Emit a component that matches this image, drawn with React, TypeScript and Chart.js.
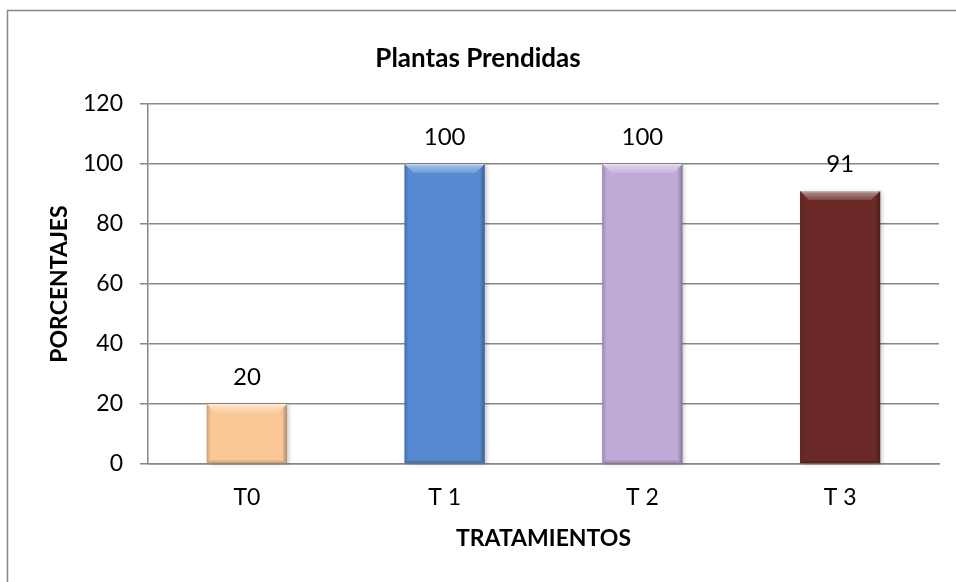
import React, { useEffect, useRef } from "react";
import { Chart, registerables } from "chart.js";

Chart.register(...registerables);

const chartTitle = "Plantas Prendidas";
const categories = ["T0", "T 1", "T 2", "T 3"];
const values = [20, 100, 100, 91];
const barColors = ["#FBC796", "#5689CF", "#BEAAD6", "#6B2A27"];
const yTitle = "PORCENTAJES";
const xTitle = "TRATAMIENTOS";
const yMin = 0;
const yMax = 120;
const yStep = 20;

const FONT = "Lato, 'Open Sans', sans-serif";
const GRID = "#878787";

const framePlugin = {
  id: "frame",
  beforeDraw(chart: any) {
    const ctx = chart.ctx;
    ctx.save();
    ctx.fillStyle = "#ffffff";
    ctx.fillRect(0, 0, chart.width, chart.height);
    ctx.strokeStyle = GRID;
    ctx.lineWidth = 1.5;
    ctx.strokeRect(7.5, 10.5, chart.width + 20, chart.height + 20);
    ctx.restore();
  },
};

const bevelPlugin = {
  id: "bevel",
  beforeDatasetsDraw(chart: any) {
    const ctx = chart.ctx;
    const meta = chart.getDatasetMeta(0);
    ctx.save();
    meta.data.forEach((bar: any) => {
      const { x, y, base, width } = bar.getProps(["x", "y", "base", "width"], true);
      const L = x - width / 2;
      ctx.shadowColor = "rgba(0,0,0,0.35)";
      ctx.shadowBlur = 4;
      ctx.shadowOffsetX = 2;
      ctx.shadowOffsetY = 1;
      ctx.fillStyle = "rgba(120,120,120,0.6)";
      ctx.fillRect(L, y, width, base - y);
    });
    ctx.restore();
  },
  afterDatasetsDraw(chart: any) {
    const ctx = chart.ctx;
    const meta = chart.getDatasetMeta(0);
    ctx.save();
    meta.data.forEach((bar: any, i: number) => {
      const { x, y, base, width } = bar.getProps(["x", "y", "base", "width"], true);
      const L = x - width / 2;
      const R = x + width / 2;
      const T = y;
      const B = base;
      const b = 9;
      // top bevel
      let g = ctx.createLinearGradient(0, T, 0, T + b);
      g.addColorStop(0, "rgba(255,255,255,0.7)");
      g.addColorStop(0.25, "rgba(255,255,255,0.4)");
      g.addColorStop(1, "rgba(255,255,255,0.15)");
      ctx.fillStyle = g;
      ctx.beginPath();
      ctx.moveTo(L, T);
      ctx.lineTo(R, T);
      ctx.lineTo(R - b, T + b);
      ctx.lineTo(L + b, T + b);
      ctx.closePath();
      ctx.fill();
      // left bevel
      g = ctx.createLinearGradient(L, 0, L + 4, 0);
      g.addColorStop(0, "rgba(0,0,0,0.2)");
      g.addColorStop(1, "rgba(0,0,0,0)");
      ctx.fillStyle = g;
      ctx.beginPath();
      ctx.moveTo(L, T);
      ctx.lineTo(L + 4, T + 4);
      ctx.lineTo(L + 4, B - 3);
      ctx.lineTo(L, B);
      ctx.closePath();
      ctx.fill();
      // right bevel
      g = ctx.createLinearGradient(R - 5, 0, R, 0);
      g.addColorStop(0, "rgba(0,0,0,0)");
      g.addColorStop(1, "rgba(0,0,0,0.3)");
      ctx.fillStyle = g;
      ctx.beginPath();
      ctx.moveTo(R, T);
      ctx.lineTo(R, B);
      ctx.lineTo(R - 5, B - 4);
      ctx.lineTo(R - 5, T + 5);
      ctx.closePath();
      ctx.fill();
      // bottom bevel
      g = ctx.createLinearGradient(0, B - 4, 0, B);
      g.addColorStop(0, "rgba(0,0,0,0)");
      g.addColorStop(1, "rgba(0,0,0,0.22)");
      ctx.fillStyle = g;
      ctx.beginPath();
      ctx.moveTo(L, B);
      ctx.lineTo(R, B);
      ctx.lineTo(R - 4, B - 4);
      ctx.lineTo(L + 4, B - 4);
      ctx.closePath();
      ctx.fill();
      // data label
      ctx.fillStyle = "#000000";
      ctx.font = `24px ${FONT}`;
      ctx.textAlign = "center";
      ctx.textBaseline = "middle";
      ctx.fillText(String(values[i]), x, T - 27);
    });
    ctx.restore();
  },
};

export default function App() {
  const ref = useRef<HTMLCanvasElement | null>(null);

  useEffect(() => {
    document.body.style.margin = "0";
    const canvas = ref.current;
    if (!canvas) return;
    const chart = new Chart(canvas, {
      type: "bar",
      data: {
        labels: categories,
        datasets: [
          {
            data: values,
            backgroundColor: barColors,
            borderWidth: 0,
            categoryPercentage: 0.405,
            barPercentage: 1,
          },
        ],
      },
      options: {
        animation: false,
        responsive: false,
        devicePixelRatio: 1,
        layout: { padding: { top: 10, left: 17, right: 17, bottom: 0 } },
        plugins: {
          legend: { display: false },
          tooltip: { enabled: false },
          title: {
            display: true,
            text: chartTitle,
            color: "#000000",
            font: { family: FONT, size: 26, weight: "bold", lineHeight: 1.2 },
            padding: { top: 33, bottom: 29.8 },
          },
        },
        scales: {
          x: {
            grid: { display: false, drawTicks: false },
            border: { display: true, color: GRID, width: 1.5 },
            ticks: {
              color: "#000000",
              font: { family: FONT, size: 23 },
              padding: 20,
            },
            title: {
              display: true,
              text: xTitle,
              color: "#000000",
              font: { family: FONT, size: 23, weight: "bold", lineHeight: 1.2 },
              padding: { top: 0, bottom: 30 },
            },
            afterFit: (s: any) => {
              s.height = 118;
            },
          },
          y: {
            min: yMin,
            max: yMax,
            grid: {
              color: GRID,
              lineWidth: 1.5,
              drawTicks: true,
              tickLength: 8,
            },
            border: { display: true, color: GRID, width: 1.5 },
            ticks: {
              stepSize: yStep,
              color: "#000000",
              font: { family: FONT, size: 23 },
              padding: 17,
            },
            title: {
              display: true,
              text: yTitle,
              color: "#000000",
              font: { family: FONT, size: 23, weight: "bold", lineHeight: 1.2 },
              padding: { top: 29, bottom: 0 },
            },
            afterFit: (s: any) => {
              s.width = 131;
            },
          },
        },
      },
      plugins: [framePlugin, bevelPlugin],
    });
    return () => chart.destroy();
  }, []);

  return (
    <div style={{ width: 956, height: 582 }}>
      <canvas ref={ref} width={956} height={582} style={{ display: "block" }} />
    </div>
  );
}
